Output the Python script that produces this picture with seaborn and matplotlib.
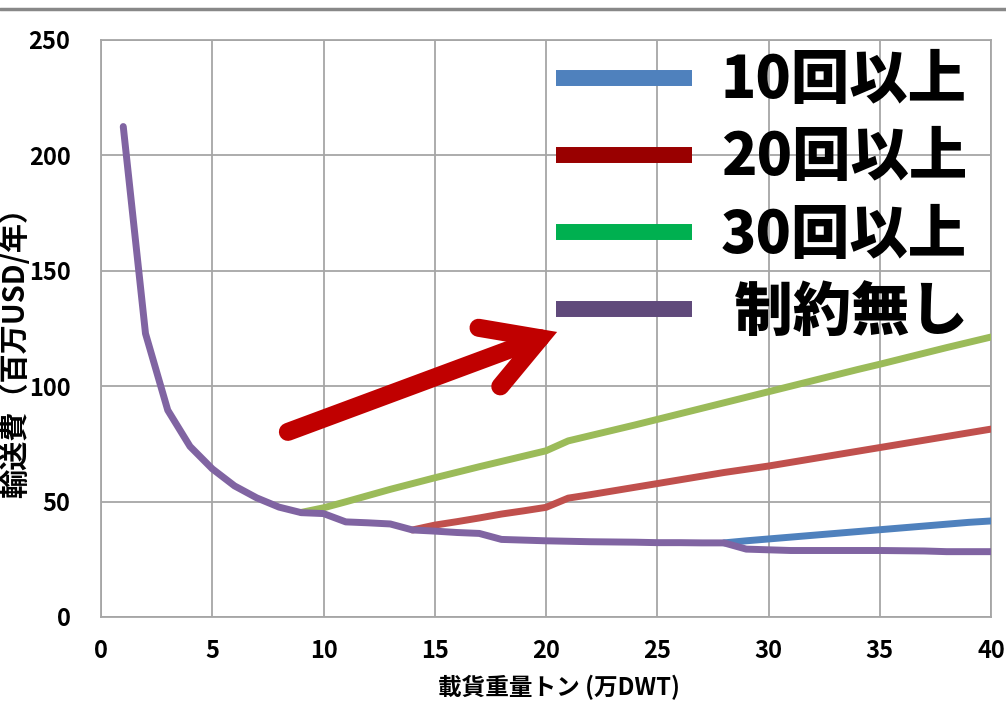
import numpy as np
import pandas as pd
import seaborn as sns
import matplotlib.pyplot as plt
from matplotlib.lines import Line2D

# 載貨重量トン (万DWT)
dwt = list(range(1, 41))
# 制約無し
no_limit = [212.5, 122.8, 89.6, 73.9, 64.2, 56.8, 51.6, 47.6, 45.2, 44.8,
            41.2, 40.8, 40.3, 37.7, 37.2, 36.6, 36.2, 33.6, 33.3, 33.0,
            32.8, 32.6, 32.5, 32.4, 32.2, 32.2, 32.1, 32.1, 29.4, 29.1,
            28.8, 28.8, 28.8, 28.8, 28.8, 28.7, 28.6, 28.3, 28.3, 28.3]
# 10回以上 (28万DWTから分岐)
dwt_10 = list(range(28, 41))
over_10 = [32.1, 33.0, 33.8, 34.6, 35.4, 36.2, 37.0, 37.8, 38.6, 39.4, 40.2, 41.0, 41.6]
# 20回以上 (14万DWTから分岐)
dwt_20 = list(range(14, 41))
over_20 = [37.7, 39.8, 41.3, 42.9, 44.6, 46.0, 47.5, 51.5, 53.0, 54.6,
           56.2, 57.8, 59.4, 61.0, 62.6, 64.0, 65.4, 67.0, 68.6, 70.2,
           71.8, 73.4, 75.0, 76.6, 78.2, 79.8, 81.4]
# 30回以上 (9万DWTから分岐)
dwt_30 = list(range(9, 41))
over_30 = [45.3, 47.3, 49.9, 52.6, 55.3, 57.8, 60.3, 62.7, 65.1, 67.4,
           69.7, 72.0, 76.3, 78.6, 80.9, 83.2, 85.6, 88.0, 90.4, 92.8,
           95.2, 97.6, 100.0, 102.4, 104.8, 107.2, 109.5, 111.9, 114.3, 116.7,
           119.0, 121.3]

labels = ["10回以上", "20回以上", "30回以上", " 制約無し"]
line_colors = ["#4F81BD", "#C0504D", "#9BBB59", "#8064A2"]
legend_colors = ["#4F81BD", "#990000", "#00B050", "#604A7B"]

sns.set_style("white")
plt.rcParams['font.family'] = ['Noto Sans CJK JP', 'DejaVu Sans']
plt.rcParams['text.color'] = 'black'
plt.rcParams['axes.labelcolor'] = 'black'
plt.rcParams['xtick.color'] = 'black'
plt.rcParams['ytick.color'] = 'black'

fig = plt.figure(figsize=(10.06, 7.09), dpi=100)
ax = fig.add_axes([0.1004, 0.1298, 0.8847, 0.8138])

series = [(dwt_10, over_10), (dwt_20, over_20), (dwt_30, over_30), (dwt, no_limit)]
for (xs, ys), col in zip(series, line_colors):
    sns.lineplot(x=xs, y=ys, ax=ax, color=col, linewidth=5, zorder=3)

ax.set_xlim(0, 40)
ax.set_ylim(0, 250)
ax.set_xticks(range(0, 41, 5))
ax.set_yticks(range(0, 251, 50))
ax.grid(True, color="#A6A6A6", linewidth=1.3)
for s in ax.spines.values():
    s.set_color("#A6A6A6")
    s.set_linewidth(1.3)

ax.tick_params(axis='both', length=0, labelsize=17)
ax.tick_params(axis='x', pad=16)
ax.tick_params(axis='y', pad=22)
for lab in ax.get_xticklabels() + ax.get_yticklabels():
    lab.set_fontweight('bold')

ax.set_xlabel("載貨重量トン (万DWT)", fontsize=17, fontweight='bold')
ax.xaxis.set_label_coords(0.515, -0.1)
ax.set_ylabel("輸送費（百万USD/年）", fontsize=21, fontweight='bold', va='center')
ax.yaxis.set_label_coords(-0.097, 0.47)

# 矢印
ax.annotate("", xy=(20.5, 123.5), xytext=(8.4, 80.2),
            arrowprops=dict(arrowstyle="->,head_length=1.3,head_width=0.75",
                            color="#C00000", lw=13, mutation_scale=30,
                            shrinkA=0, shrinkB=0, capstyle='round', joinstyle='miter'))

handles = [Line2D([], [], color=c, linewidth=11.5, solid_capstyle='butt') for c in legend_colors]
leg = ax.legend(handles, labels, loc='upper right', bbox_to_anchor=(1.0, 1.02),
                frameon=False, prop=dict(family='Noto Sans CJK JP', weight='heavy', size=42),
                handlelength=2.33, handletextpad=0.5, labelspacing=0.32, borderaxespad=0)

fig.add_artist(Line2D([0, 1], [0.988, 0.988], color="#888888", linewidth=2.5,
                      transform=fig.transFigure))

fig.savefig("out.png", dpi=100)
